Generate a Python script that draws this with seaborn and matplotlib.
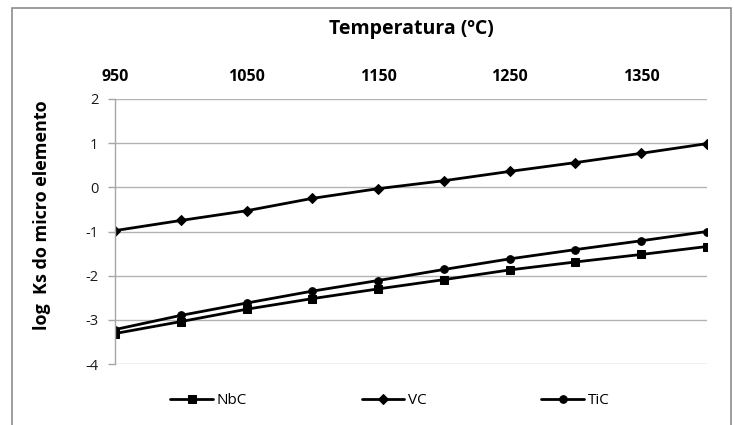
import matplotlib
matplotlib.use("Agg")
import matplotlib.pyplot as plt
import seaborn as sns
import pandas as pd
from matplotlib.patches import Rectangle

temperatura = [950, 1000, 1050, 1100, 1150, 1200, 1250, 1300, 1350, 1400]
nbc = [-3.31, -3.04, -2.76, -2.52, -2.30, -2.09, -1.87, -1.69, -1.52, -1.34]
vc = [-0.98, -0.75, -0.53, -0.25, -0.03, 0.15, 0.36, 0.56, 0.77, 0.99]
tic = [-3.22, -2.90, -2.62, -2.35, -2.11, -1.86, -1.62, -1.41, -1.21, -1.00]
x_ticks = [950, 1050, 1150, 1250, 1350]
y_ticks = [-4, -3, -2, -1, 0, 1, 2]

sns.set_theme(style="white")
plt.rcParams["font.family"] = ["Open Sans", "DejaVu Sans"]
plt.rcParams["axes.unicode_minus"] = False
plt.rcParams["text.color"] = "black"
plt.rcParams["axes.labelcolor"] = "black"

W, H = 735, 425
fig = plt.figure(figsize=(W / 100, H / 100), dpi=100)
left, right, top, bottom = 115, 707, 99, 364
ax = fig.add_axes([left / W, 1 - bottom / H, (right - left) / W, (bottom - top) / H])

# outer chart border
fig.patches.append(Rectangle((12 / W, -0.05), (731 - 12) / W, 1 - 8 / H + 0.05,
                             transform=fig.transFigure, fill=False,
                             edgecolor="#8c8c8c", linewidth=1.2))

series = [("NbC", nbc, "s", 6.5), ("VC", vc, "D", 4.0), ("TiC", tic, "o", 6.5)]
for name, vals, mk, ms in series:
    df = pd.DataFrame({"T": temperatura, "v": vals})
    sns.lineplot(data=df, x="T", y="v", ax=ax, color="black", marker=mk,
                 markersize=ms, linewidth=2, markeredgecolor="black",
                 label=name, legend=False)

ax.set_xlim(950, 1400)
ax.set_ylim(-4, 2)
ax.set_yticks(y_ticks)
ax.set_xticks(x_ticks)
ax.xaxis.tick_top()
ax.xaxis.set_label_position("top")
ax.tick_params(axis="x", length=0, pad=10, labelsize=11.5, labelcolor="black")
for t in ax.get_xticklabels():
    t.set_fontweight("bold")
ax.tick_params(axis="y", length=5, width=1, color="#a6a6a6", pad=7,
               labelsize=10.5, labelcolor="#1a1a1a", left=True)
ax.grid(axis="y", color="#b3b3b3", linewidth=1)
ax.grid(axis="x", visible=False)
for s in ["top", "right", "bottom"]:
    ax.spines[s].set_visible(False)
ax.spines["left"].set_color("#a6a6a6")
ax.spines["left"].set_linewidth(1)
ax.set_xlabel("Temperatura (ºC)", fontsize=14, fontweight="bold", labelpad=25,
              color="black")
ax.set_ylabel("log  Ks do micro elemento", fontsize=13, fontweight="bold",
              color="black")
ax.yaxis.set_label_coords(-0.108, 0.562)

handles, labels = ax.get_legend_handles_labels()
for h in handles:
    h.set_markersize(5.5)
leg = fig.legend(handles, labels, loc="center", bbox_to_anchor=(390 / W, 1 - 401 / H),
                 ncol=3, frameon=False, fontsize=11, handlelength=2.8,
                 handletextpad=0.25, columnspacing=7.5)
for t in leg.get_texts():
    t.set_color("black")

fig.savefig("out.png", dpi=100)
